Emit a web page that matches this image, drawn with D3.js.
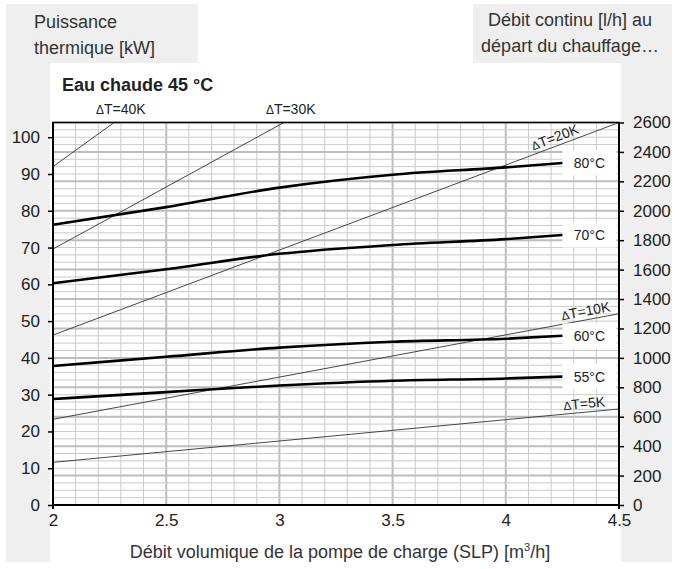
<!DOCTYPE html>
<html lang="fr">
<head>
<meta charset="UTF-8">
<title>Eau chaude 45 °C</title>
<script src="https://d3js.org/d3.v7.min.js"></script>
<style>
  body { margin: 0; background: #fff; }
  svg { display: block; font-family: "Liberation Sans", Arial, sans-serif; }
  .grid-minor { stroke: #cbcbcb; stroke-width: 1; }
  .grid-major { stroke: #bdbdbd; stroke-width: 2; }
  .dt-line { fill: none; stroke: #333; stroke-width: 0.9; }
  .temp-line { fill: none; stroke: #000; stroke-width: 2.6; }
  .tick-label { font-size: 17px; fill: #222; }
</style>
</head>
<body>
<div id="chart"></div>
<script>
// x axis: pump flow (m3/h)
const xTicks = [2, 2.5, 3, 3.5, 4, 4.5];
// left axis: thermal power (kW)
const powerTicks = [0, 10, 20, 30, 40, 50, 60, 70, 80, 90, 100];
// right axis: continuous flow (l/h)
const flowTicks = [0, 200, 400, 600, 800, 1000, 1200, 1400, 1600, 1800, 2000, 2200, 2400, 2600];

// flow temperature curves
const curveX = [2, 2.5, 3, 3.5, 4, 4.25];
const temp80 = [76.2, 81.0, 86.3, 89.8, 91.8, 93.0];
const temp70 = [60.3, 64.1, 68.3, 70.7, 72.3, 73.4];
const temp60 = [37.8, 40.3, 42.8, 44.4, 45.2, 46.0];
const temp55 = [28.8, 30.7, 32.5, 33.8, 34.4, 34.9];
const tempNames = ['80°C', '70°C', '60°C', '55°C'];

// delta T lines: [x, kW] end points
const dt5 = [[2, 11.6], [4.5, 26.1]];
const dt10 = [[2, 23.3], [4.5, 52.0]];
const dt20 = [[2, 46.2], [4.5, 104]];
const dt30 = [[2, 69.6], [3.02, 104]];
const dt40 = [[2, 92.0], [2.27, 104]];

const W = 675, H = 569;
const svg = d3.select('#chart').append('svg')
    .attr('width', W).attr('height', H);

// grey frame
svg.append('rect').attr('x', 6).attr('y', 4).attr('width', 666).attr('height', 558).attr('fill', '#efefef');
svg.append('rect').attr('x', 50).attr('y', 63).attr('width', 571).attr('height', 506).attr('fill', '#fff');
svg.append('rect').attr('x', 198).attr('y', 0).attr('width', 275).attr('height', 63).attr('fill', '#fff');

const x = d3.scaleLinear().domain([2, 4.5]).range([53, 619]);
const yP = d3.scaleLinear().domain([0, 104]).range([505, 122.5]);
const yF = d3.scaleLinear().domain([0, 2600]).range([505, 122.5]);

svg.append('defs').append('clipPath').attr('id', 'plot')
  .append('rect').attr('x', 53).attr('y', 122.5).attr('width', 566).attr('height', 382.5);

// grid
const grid = svg.append('g');
grid.selectAll('.vmin').data(x.ticks(25)).enter().append('line')
    .attr('class', d => Math.abs(d * 2 - Math.round(d * 2)) < 1e-6 ? 'grid-major' : 'grid-minor')
    .attr('x1', d => x(d)).attr('x2', d => x(d))
    .attr('y1', yF(0)).attr('y2', yF(2600));
grid.selectAll('.hmin').data(yF.ticks(52)).enter().append('line')
    .attr('class', d => d % 200 === 0 ? 'grid-major' : 'grid-minor')
    .attr('x1', x(2)).attr('x2', x(4.5))
    .attr('y1', d => yF(d)).attr('y2', d => yF(d));

// delta T lines
const plot = svg.append('g').attr('clip-path', 'url(#plot)');
const straight = d3.line().x(d => x(d[0])).y(d => yP(d[1]));
[dt5, dt10, dt20, dt30, dt40].forEach(s => {
  plot.append('path').attr('class', 'dt-line').attr('d', straight(s));
});

// white boxes behind temperature labels
const temps = [temp80, temp70, temp60, temp55];
const lastX = curveX[curveX.length - 1];
temps.forEach(t => {
  const yy = yP(t[t.length - 1]);
  svg.append('rect').attr('x', x(lastX)).attr('y', yy - 12.5)
    .attr('width', 54).attr('height', 25).attr('fill', '#fff');
});

// temperature curves
const smooth = d3.line().x((d, i) => x(curveX[i])).y(d => yP(d)).curve(d3.curveMonotoneX);
temps.forEach((t, i) => {
  svg.append('path').attr('class', 'temp-line').attr('d', smooth(t));
  svg.append('text').attr('x', x(lastX) + 27).attr('y', yP(t[t.length - 1]) + 5)
    .attr('text-anchor', 'middle').style('font-size', '14px').attr('fill', '#222')
    .text(tempNames[i]);
});

// frame and axes
svg.append('rect').attr('x', 53).attr('y', 122.5).attr('width', 566).attr('height', 382.5)
    .attr('fill', 'none').attr('stroke', '#000').attr('stroke-width', 1.5);
svg.append('line').attr('x1', 53).attr('x2', 53).attr('y1', 122.5).attr('y2', 509)
    .attr('stroke', '#000').attr('stroke-width', 2);
svg.append('line').attr('x1', 619).attr('x2', 619).attr('y1', 122.5).attr('y2', 509)
    .attr('stroke', '#000').attr('stroke-width', 2);
svg.append('line').attr('x1', 53).attr('x2', 619).attr('y1', 505).attr('y2', 505)
    .attr('stroke', '#000').attr('stroke-width', 2);

const leftAxis = svg.append('g').attr('transform', 'translate(53,0)')
    .call(d3.axisLeft(yP).tickValues(powerTicks).tickSize(5).tickPadding(8).tickFormat(d3.format('d')));
const rightAxis = svg.append('g').attr('transform', 'translate(619,0)')
    .call(d3.axisRight(yF).tickValues(flowTicks).tickSize(5).tickPadding(9).tickFormat(d3.format('d')));
const bottomAxis = svg.append('g').attr('transform', 'translate(0,505)')
    .call(d3.axisBottom(x).tickValues(xTicks).tickSize(0).tickPadding(9).tickFormat(d3.format('')));
[leftAxis, rightAxis, bottomAxis].forEach(a => {
  a.attr('font-family', null).attr('font-size', null);
  a.select('.domain').remove();
  a.selectAll('line').attr('stroke', '#000').attr('stroke-width', 1.5);
  a.selectAll('text').attr('class', 'tick-label');
});

// delta T labels
function dtLabel(g, txt) {
  g.append('tspan').style('font-size', '0.85em').text('Δ');
  g.append('tspan').text(txt);
}
[[dt40, 'T=40K', 2.3], [dt30, 'T=30K', 3.05]].forEach(([s, txt, lx]) => {
  const t = svg.append('text').attr('x', x(lx)).attr('y', 114)
    .attr('text-anchor', 'middle').style('font-size', '14px').attr('fill', '#222');
  dtLabel(t, txt);
});
[[dt20, 'T=20K', 4.23, 4], [dt10, 'T=10K', 4.36, 4], [dt5, 'T=5K', 4.35, 4]].forEach(([s, txt, lx, off]) => {
  const px0 = x(s[0][0]), py0 = yP(s[0][1]), px1 = x(s[1][0]), py1 = yP(s[1][1]);
  const ang = Math.atan2(py1 - py0, px1 - px0) * 180 / Math.PI;
  const py = py0 + (py1 - py0) * (x(lx) - px0) / (px1 - px0);
  const t = svg.append('text')
    .attr('transform', `translate(${x(lx)},${py}) rotate(${ang}) translate(0,${-off})`)
    .attr('text-anchor', 'middle').style('font-size', '14px').attr('fill', '#222');
  dtLabel(t, txt);
});

// titles
svg.append('text').attr('x', 62).attr('y', 91).style('font-size', '18px').style('font-weight', 'bold')
    .attr('fill', '#222').text('Eau chaude 45 °C');
const ylab = svg.append('text').attr('x', 34).style('font-size', '18px').attr('fill', '#333');
ylab.append('tspan').attr('x', 34).attr('y', 28).text('Puissance');
ylab.append('tspan').attr('x', 34).attr('y', 54).text('thermique [kW]');
const rlab = svg.append('text').attr('text-anchor', 'middle').style('font-size', '18px').attr('fill', '#333');
rlab.append('tspan').attr('x', 570).attr('y', 26).text('Débit continu [l/h] au');
rlab.append('tspan').attr('x', 570).attr('y', 52).text('départ du chauffage…');
const xlab = svg.append('text').attr('x', 340).attr('y', 558).attr('text-anchor', 'middle')
    .style('font-size', '18px').attr('fill', '#333');
xlab.append('tspan').text('Débit volumique de la pompe de charge (SLP) [m');
xlab.append('tspan').style('font-size', '11px').attr('dy', -7).text('3');
xlab.append('tspan').attr('dy', 7).text('/h]');
</script>
</body>
</html>
